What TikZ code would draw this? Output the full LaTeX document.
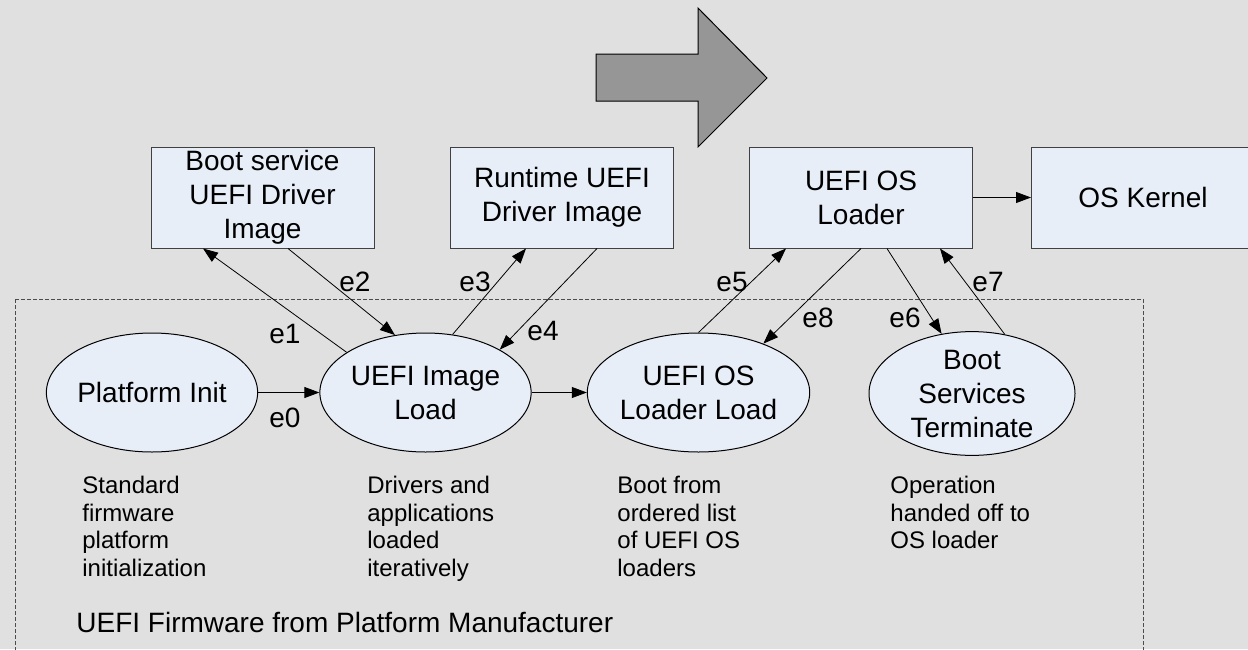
\documentclass[tikz,border=0pt]{standalone}
\usepackage{fontspec}
\setmainfont{Liberation Sans}
\usetikzlibrary{arrows.meta,shapes.geometric}
\definecolor{bggray}{RGB}{224,224,224}
\definecolor{boxfill}{RGB}{232,238,248}
\definecolor{bigarrow}{RGB}{150,150,150}
\begin{document}
\begin{tikzpicture}[x=0.5pt,y=-0.5pt,
  box/.style={draw=black!75,fill=boxfill,line width=0.5pt,minimum width=111.5pt,
    minimum height=50.5pt,inner sep=0pt,align=center,font=\fontsize{14}{17}\selectfont},
  phase/.style={ellipse,draw,fill=boxfill,line width=0.5pt,minimum width=103pt,
    minimum height=59.5pt,inner sep=0pt,align=center,font=\fontsize{14}{17}\selectfont},
  note/.style={anchor=north west,inner sep=0pt,align=left,font=\fontsize{12}{13.75}\selectfont},
  elabel/.style={inner sep=0pt,font=\fontsize{14}{17}\selectfont},
  flow/.style={-{Triangle[length=7.5pt,width=5.5pt]},line width=0.4pt}]
\path[use as bounding box,clip] (0,0) rectangle (1248,649);
\fill [bggray] (0,0) rectangle (1248,649);

% firmware area
\draw [black!70,line width=0.5pt,dash pattern=on 2pt off 1pt] (15,299) rectangle (1143,700);
\node [anchor=base west,inner sep=0pt,font=\fontsize{14}{17}\selectfont] (fwlabel) at (76,632)
  {UEFI Firmware from Platform Manufacturer};

% big arrow
\draw [fill=bigarrow,line width=0.5pt] (596,54) -- (698,54) -- (698,8) -- (767,78)
  -- (698,147) -- (698,101) -- (596,101) -- cycle;

% boxes
\node [box] (bsdrv) at (262.5,197.5) {Boot service\\UEFI Driver\\Image};
\node [box] (rtdrv) at (562,197.5) {Runtime UEFI\\Driver Image};
\node [box] (osldr) at (861,197.5) {UEFI OS\\Loader};
\node [box] (kernel) at (1143,197.5) {OS Kernel};

% phases
\node [phase] (init) at (152,392.5) {Platform Init};
\node [phase] (imgload) at (425.5,392.5) {UEFI Image\\Load};
\node [phase] (ldrload) at (698.5,392.5) {UEFI OS\\Loader Load};
\node [phase] (bsterm) at (972,393.5) {Boot\\Services\\Terminate};

% notes
\node [note] (initnote) at (82,476) {Standard\\firmware\\platform\\initialization};
\node [note] (imgnote) at (367,476) {Drivers and\\applications\\loaded\\iteratively};
\node [note] (ldrnote) at (617,476) {Boot from\\ordered list\\of UEFI OS\\loaders};
\node [note] (termnote) at (890,476) {Operation\\handed off to\\OS loader};

% connectors
\draw [flow] (init) -- (imgload);
\draw [flow] (imgload) -- (ldrload);
\draw [flow] (osldr) -- (kernel);
\draw [flow] (imgload.153) -- ([xshift=-29.75pt]bsdrv.south);
\draw [flow] ([xshift=12.75pt]bsdrv.south) -- (imgload.118);
\draw [flow] (imgload.65) -- ([xshift=-18pt]rtdrv.south);
\draw [flow] ([xshift=17.5pt]rtdrv.south) -- (imgload.30);
\draw [flow] (ldrload.90) -- ([xshift=-37.5pt]osldr.south);
\draw [flow] (osldr.south) -- (ldrload.37);
\draw [flow] ([xshift=13pt]osldr.south) -- (bsterm.117);
\draw [flow] (bsterm.61) -- ([xshift=39.5pt]osldr.south);

% edge labels
\node [elabel] (le0) at (285,418) {e0};
\node [elabel] (le1) at (285,334) {e1};
\node [elabel] (le2) at (355,282) {e2};
\node [elabel] (le3) at (475,282) {e3};
\node [elabel] (le4) at (543,331) {e4};
\node [elabel] (le5) at (732,282) {e5};
\node [elabel] (le8) at (818,318) {e8};
\node [elabel] (le6) at (905,318) {e6};
\node [elabel] (le7) at (988,282) {e7};
\end{tikzpicture}
\end{document}
